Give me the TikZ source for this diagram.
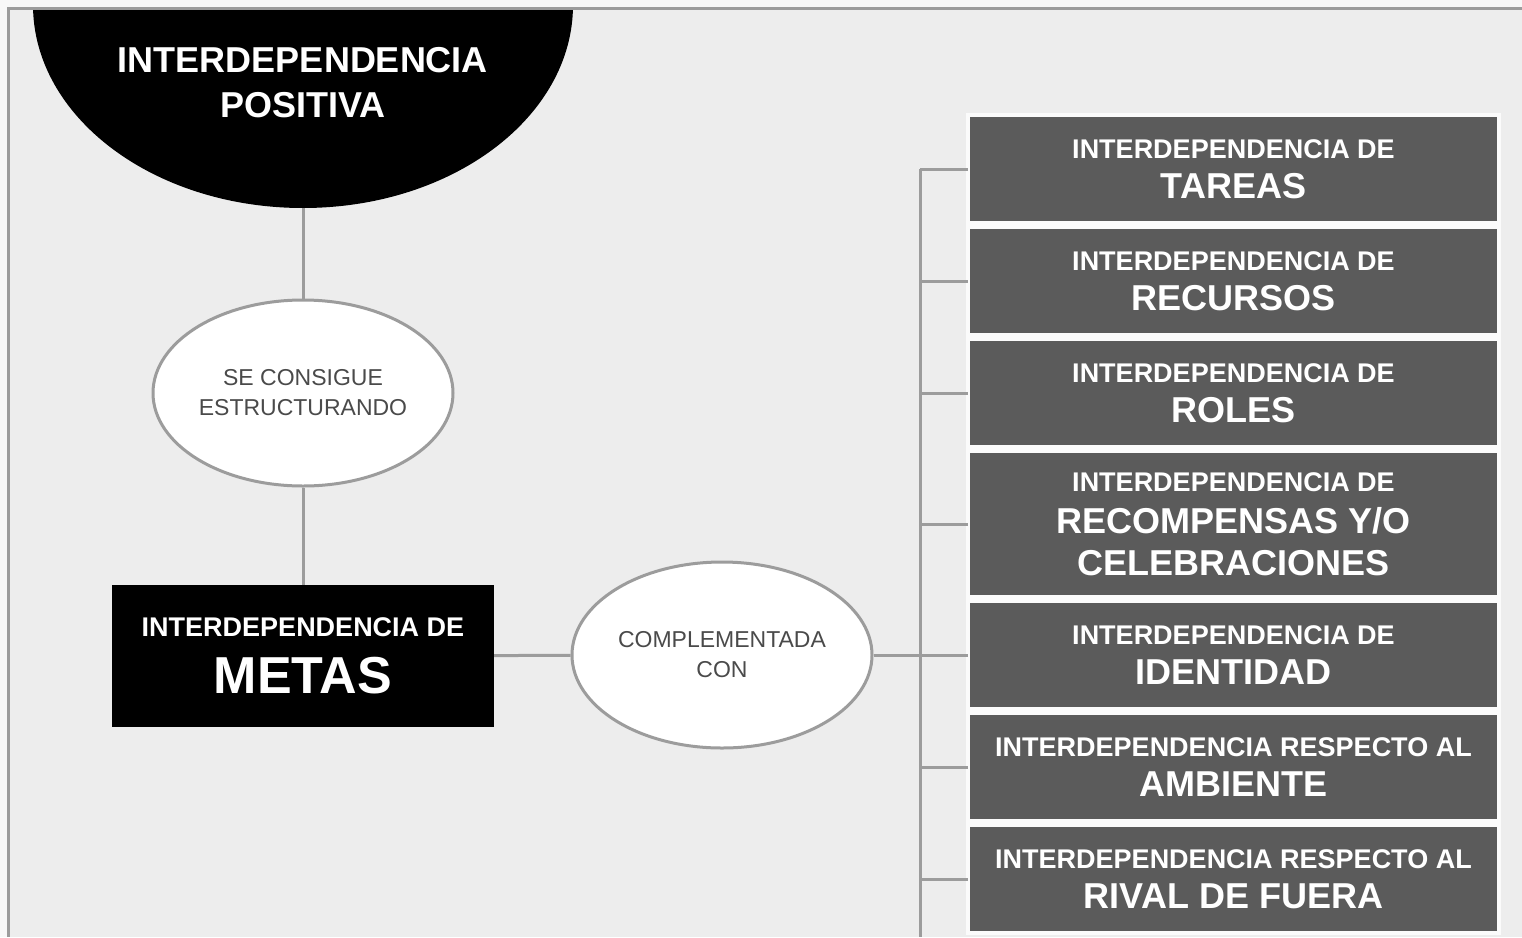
\documentclass[tikz,border=0pt]{standalone}
\usepackage{fontspec}
\setmainfont{Liberation Sans}
\usetikzlibrary{shapes.geometric, positioning}

\definecolor{fondo}{HTML}{EDEDED}
\definecolor{trazo}{HTML}{9C9C9C}
\definecolor{cajagris}{HTML}{5B5B5B}
\definecolor{letragris}{HTML}{4A4A4A}

\newcommand{\chica}{\fontsize{27}{36}\selectfont}

\begin{document}
\begin{tikzpicture}[x=1pt,y=-1pt,node distance=4pt,
    linea/.style={draw=trazo, line width=3pt},
    burbuja/.style={ellipse, draw=trazo, line width=3pt, fill=white,
        minimum width=300pt, minimum height=186pt, inner sep=0pt,
        align=center, text=letragris, font=\fontsize{23}{30}\selectfont},
    caja/.style={rectangle, fill=cajagris, draw=white!80!fondo, line width=4pt,
        outer sep=0pt, minimum width=531pt, minimum height=108pt, inner sep=0pt,
        align=center, text=white, font=\bfseries\fontsize{36}{40}\selectfont}]
  \useasboundingbox (0,0) rectangle (1522,937);
  \fill[white!60!fondo] (0,0) rectangle (1522,937);
  \fill[fondo] (8,8) rectangle (1522,937);
  % cabecera
  \begin{scope}
    \clip (9.5,9.5) rectangle (1522,937);
    \node[ellipse, fill=black, minimum width=540pt, minimum height=406pt] (pos) at (303,5) {};
  \end{scope}
  \node[text=white, font=\bfseries\fontsize{36}{45}\selectfont, align=center] (postxt) at (303,83) {INTERDEPENDENCIA\\POSITIVA};
  \node[burbuja] (cons) at (303,393) {SE CONSIGUE\\ESTRUCTURANDO};
  \node[rectangle, fill=black, minimum width=382pt, minimum height=142pt, inner sep=0pt,
        outer sep=0pt, align=center, text=white, font=\bfseries\fontsize{52}{57}\selectfont]
        (metas) at (303,656) {{\chica INTERDEPENDENCIA DE}\\METAS};
  \node[burbuja] (comp) at (722,655) {COMPLEMENTADA\\CON};
  % tipos de interdependencia
  \node[caja] (t1) at (1233.5,169) {{\chica INTERDEPENDENCIA DE}\\TAREAS};
  \node[caja] (t2) [below=of t1] {{\chica INTERDEPENDENCIA DE}\\RECURSOS};
  \node[caja] (t3) [below=of t2] {{\chica INTERDEPENDENCIA DE}\\ROLES};
  \node[caja, minimum height=146pt, font=\bfseries\fontsize{36}{42}\selectfont] (t4) [below=of t3]
        {{\chica INTERDEPENDENCIA DE}\\RECOMPENSAS Y/O\\CELEBRACIONES};
  \node[caja] (t5) [below=of t4] {{\chica INTERDEPENDENCIA DE}\\IDENTIDAD};
  \node[caja] (t6) [below=of t5] {{\chica INTERDEPENDENCIA RESPECTO AL}\\AMBIENTE};
  \node[caja] (t7) [below=of t6] {{\chica INTERDEPENDENCIA RESPECTO AL}\\RIVAL DE FUERA};
  \coordinate (bus) at (920,937);
  \path[linea]
    (pos) edge (cons)
    (cons) edge (metas)
    (metas) edge (comp);
  \draw[linea] (comp.east) -- (t5.west);
  \draw[linea] (bus|-t1.west) -- (bus);
  \foreach \n in {t1,t2,t3,t4,t5,t6,t7}
    \draw[linea] (bus|-\n.west) -- (\n.west);
  % marco
  \draw[trazo, line width=3pt] (1522,8) -- (8,8) -- (8,937);
\end{tikzpicture}
\end{document}
